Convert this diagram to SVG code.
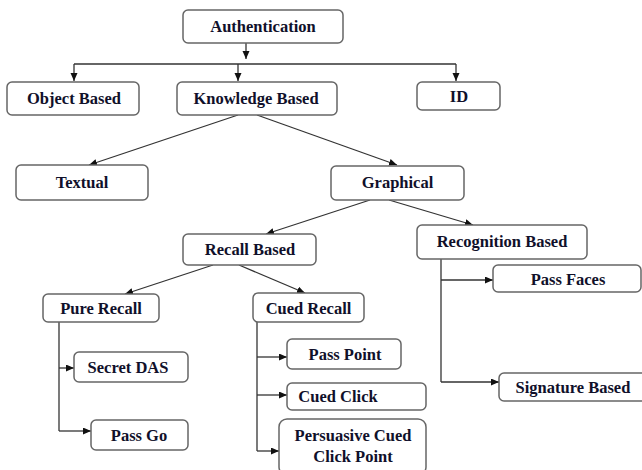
<svg xmlns="http://www.w3.org/2000/svg" width="642" height="470" viewBox="0 0 642 470">
<style>
.box{fill:#fff;stroke:#666;stroke-width:1.5}
.t{font-family:"Liberation Serif","Times New Roman",serif;font-weight:bold;font-size:16.5px;fill:#10102a;text-anchor:middle}
.c{fill:none;stroke:#333;stroke-width:1.3}
</style>
<defs>
<marker id="a" markerUnits="userSpaceOnUse" markerWidth="9" markerHeight="8" refX="8" refY="3.5" orient="auto">
<path d="M0,0 L8,3.5 L0,7 z" fill="#111"/>
</marker>
</defs>
<rect width="642" height="470" fill="#fff"/>
<g id="connectors">
<line class="c" x1="246" y1="43" x2="246" y2="59" marker-end="url(#a)"/>
<line class="c" x1="74" y1="64" x2="456" y2="64"/>
<line class="c" x1="74" y1="64" x2="74" y2="81" marker-end="url(#a)"/>
<line class="c" x1="238" y1="64" x2="238" y2="81" marker-end="url(#a)"/>
<line class="c" x1="456" y1="64" x2="456" y2="81" marker-end="url(#a)"/>
<line class="c" x1="238" y1="115" x2="89" y2="165" marker-end="url(#a)"/>
<line class="c" x1="257" y1="115" x2="397" y2="165" marker-end="url(#a)"/>
<line class="c" x1="370" y1="200" x2="266" y2="234" marker-end="url(#a)"/>
<line class="c" x1="389" y1="200" x2="473" y2="225" marker-end="url(#a)"/>
<line class="c" x1="213" y1="265" x2="125" y2="294" marker-end="url(#a)"/>
<line class="c" x1="239" y1="265" x2="305" y2="293" marker-end="url(#a)"/>
<line class="c" x1="59" y1="322" x2="59" y2="431"/>
<line class="c" x1="59" y1="368" x2="74" y2="368" marker-end="url(#a)"/>
<line class="c" x1="59" y1="431" x2="91" y2="431" marker-end="url(#a)"/>
<line class="c" x1="257" y1="322" x2="257" y2="451"/>
<line class="c" x1="257" y1="357" x2="287" y2="357" marker-end="url(#a)"/>
<line class="c" x1="257" y1="395" x2="287" y2="395" marker-end="url(#a)"/>
<line class="c" x1="257" y1="451" x2="279" y2="451" marker-end="url(#a)"/>
<line class="c" x1="441" y1="259" x2="441" y2="382"/>
<line class="c" x1="441" y1="280" x2="493" y2="280" marker-end="url(#a)"/>
<line class="c" x1="441" y1="382" x2="499" y2="382" marker-end="url(#a)"/>
</g>
<g id="authentication"><rect class="box" x="183" y="10" width="160" height="33" rx="5"/><text class="t" x="263" y="32">Authentication</text></g>
<g id="object-based"><rect class="box" x="7" y="82" width="132" height="33" rx="5"/><text class="t" x="74" y="104">Object Based</text></g>
<g id="knowledge-based"><rect class="box" x="177" y="82" width="160" height="33" rx="5"/><text class="t" x="256" y="104">Knowledge Based</text></g>
<g id="id"><rect class="box" x="417" y="82" width="83" height="28" rx="5"/><text class="t" x="459" y="102">ID</text></g>
<g id="textual"><rect class="box" x="16" y="165" width="132" height="35" rx="5"/><text class="t" x="82" y="188">Textual</text></g>
<g id="graphical"><rect class="box" x="331" y="166" width="133" height="34" rx="5"/><text class="t" x="397.5" y="188">Graphical</text></g>
<g id="recall-based"><rect class="box" x="183" y="234" width="133" height="31" rx="5"/><text class="t" x="250" y="255">Recall Based</text></g>
<g id="recognition-based"><rect class="box" x="417" y="225" width="170" height="34" rx="5"/><text class="t" x="502" y="247">Recognition Based</text></g>
<g id="pure-recall"><rect class="box" x="43" y="294" width="116" height="28" rx="5"/><text class="t" x="101" y="314">Pure Recall</text></g>
<g id="secret-das"><rect class="box" x="74" y="352" width="114" height="30" rx="5"/><text class="t" x="128" y="373">Secret DAS</text></g>
<g id="pass-go"><rect class="box" x="91" y="420" width="97" height="30" rx="5"/><text class="t" x="139" y="441">Pass Go</text></g>
<g id="cued-recall"><rect class="box" x="253" y="293" width="111" height="29" rx="5"/><text class="t" x="308.5" y="314">Cued Recall</text></g>
<g id="pass-point"><rect class="box" x="287" y="339" width="114" height="30" rx="5"/><text class="t" x="345" y="360">Pass Point</text></g>
<g id="cued-click"><rect class="box" x="287" y="383" width="139" height="27" rx="5"/><text class="t" x="338" y="402">Cued Click</text></g>
<g id="persuasive-cued-click-point"><rect class="box" x="279" y="419" width="147" height="56" rx="8"/><text class="t" x="353" y="441">Persuasive Cued</text><text class="t" x="353" y="462">Click Point</text></g>
<g id="pass-faces"><rect class="box" x="493" y="265" width="148" height="27" rx="5"/><text class="t" x="568" y="285">Pass Faces</text></g>
<g id="signature-based"><rect class="box" x="499" y="373" width="150" height="28" rx="5"/><text class="t" x="573" y="393">Signature Based</text></g>
</svg>
